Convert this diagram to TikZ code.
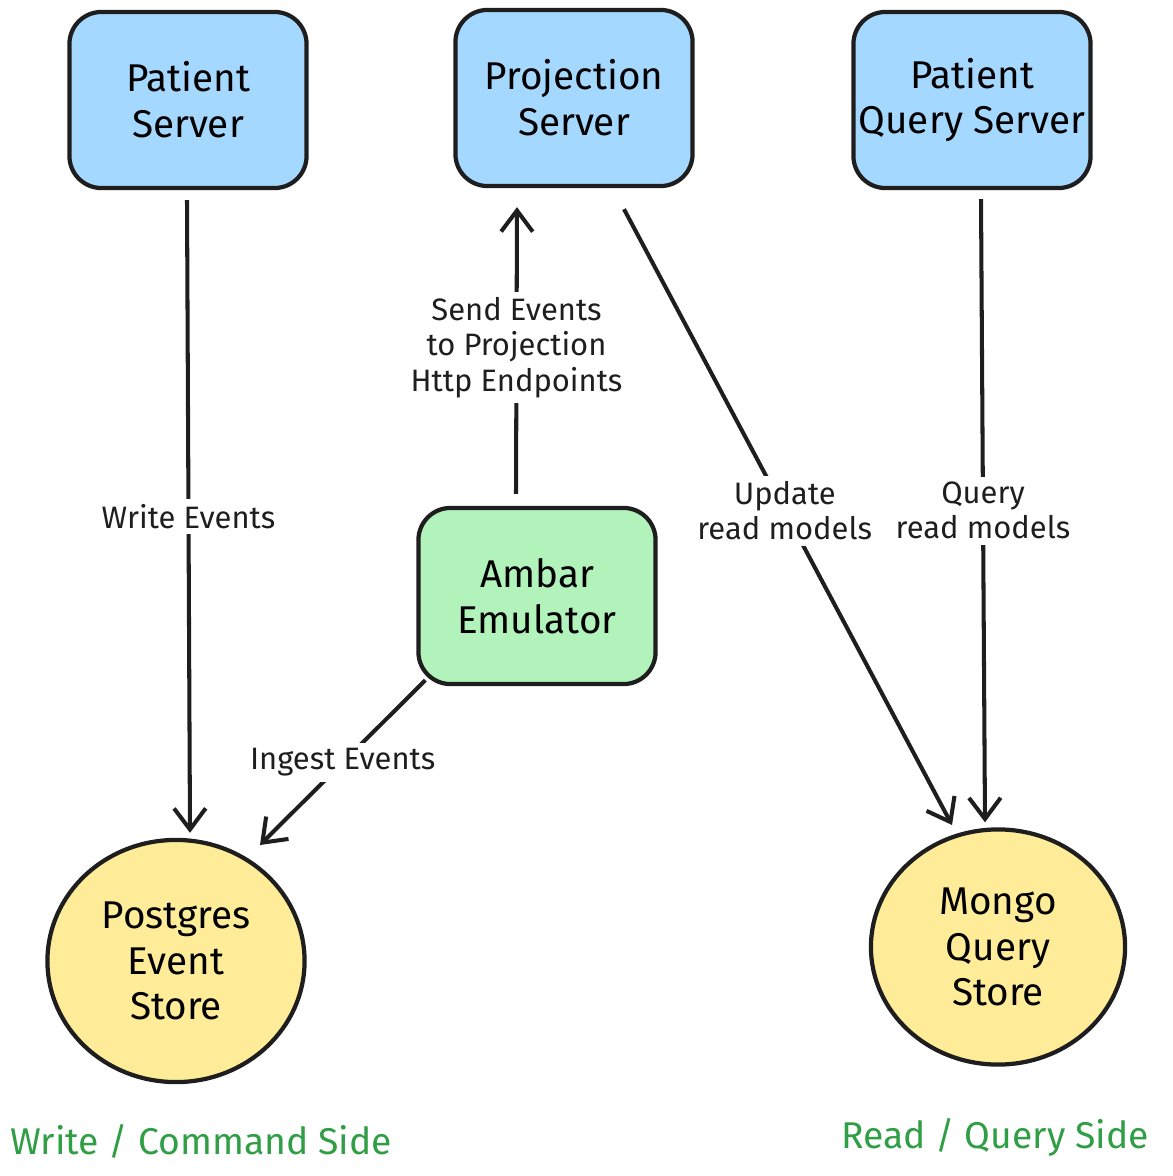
\documentclass[tikz,border=0pt]{standalone}
\usepackage{fontspec}
\setmainfont{Fira Sans}
\usetikzlibrary{arrows.meta,calc,shapes.geometric}
\definecolor{ink}{HTML}{1E1E1E}
\definecolor{bluefill}{HTML}{A5D8FF}
\definecolor{greenfill}{HTML}{B2F2BB}
\definecolor{yellowfill}{HTML}{FFEC99}
\definecolor{sidegreen}{HTML}{2F9E44}
\tikzset{
  server/.style={draw=ink, line width=1.2pt, rounded corners=0.32cm, fill=bluefill,
    minimum width=2.37cm, minimum height=1.76cm, align=center, font=\fontsize{11}{13}\selectfont, inner sep=0pt},
  emul/.style={server, fill=greenfill},
  store/.style={draw=ink, line width=1.2pt, ellipse, fill=yellowfill, inner sep=0pt,
    align=center, font=\fontsize{11}{13}\selectfont},
  arr/.style={draw=ink, line width=1.15pt, -{Straight Barb[length=6pt,width=9pt,line width=1.15pt]}},
  lbl/.style={fill=white, inner sep=1.5pt, align=center, text=ink, font=\fontsize{8.8}{10}\selectfont},
  side/.style={text=sidegreen, font=\fontsize{10.6}{12.8}\selectfont}
}
\begin{document}
\begin{tikzpicture}[x=0.01cm,y=-0.01cm]
\useasboundingbox (0,0) rectangle (1172,1176);
\node[server] (ps) at (188,100) {Patient\\Server};
\node[server] (pj) at (574,98) {Projection\\Server};
\node[server] (qs) at (972,100) {Patient\\Query Server};
\node[emul] (am) at (537,596) {Ambar\\Emulator};
\node[store, minimum width=2.57cm, minimum height=2.42cm] (pg) at (176,961) {Postgres\\Event\\Store};
\node[store, minimum width=2.54cm, minimum height=2.35cm] (mg) at (998,947) {Mongo\\Query\\Store};
\node[side] (ws) at (201,1141) {Write / Command Side};
\node[side] (rs) at (995,1137) {Read / Query Side};

\draw[arr] ($(ps.south)+(-1,10)$) -- ($(pg.north)+(14,-5)$)
  node[lbl, pos=0.5] {Write Events};
\draw[arr] ($(am.north)+(-21,-12)$) -- ($(pj.south)+(-57,19)$)
  node[lbl, pos=0.51] {Send Events\\to Projection\\Http Endpoints};
\draw[arr] ($(pj.south)+(50,21)$) -- ($(mg.center)+(-46,-122)$)
  node[lbl, pos=0.49] {Update\\read models};
\draw[arr] ($(qs.south)+(9,9)$) -- ($(mg.north)+(-13,-5)$)
  node[lbl, pos=0.5] {Query\\read models};
\draw[arr] ($(am.south west)+(9,-6)$) -- ($(pg.center)+(84,-116)$)
  node[lbl, pos=0.5] {Ingest Events};
\end{tikzpicture}
\end{document}
